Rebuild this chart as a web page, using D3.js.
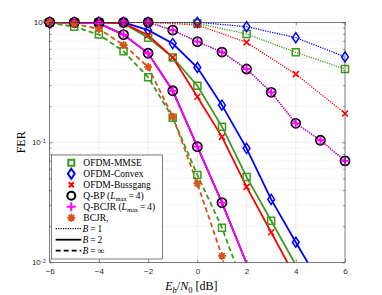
<!DOCTYPE html>
<html>
<head>
<meta charset="utf-8">
<script src="https://cdn.jsdelivr.net/npm/d3@7"></script>
<style>
body{margin:0;background:#fff;}
svg{display:block;}
text{font-family:"Liberation Serif","Times New Roman",serif;fill:#000;}
.tick text{font-family:"Liberation Sans",Arial,sans-serif;font-size:8px;fill:#262626;}
</style>
</head>
<body>
<div class="mainContainer"></div>
<script>
// Eb/N0 grids
var snr = [-6,-5,-4,-3,-2,-1,0,1,2,3,4,5,6];
var snrEven = [-6,-4,-2,0,2,4,6];

// B = 1 (dotted)
var mmseB1 = [1,1,1,0.98,0.80,0.562,0.408];
var convexB1 = [1,1,1,1,0.92,0.745,0.515];
var bussgangB1 = [1,1,1,0.95,0.68,0.37,0.174];
var qbpB1 = [1,1,1,1,1,0.86,0.69,0.565,0.408,0.261,0.144,0.104,0.070];
var qbcjrB1 = [1,1,1,1,1,0.86,0.69,0.565,0.408,0.261,0.144,0.104,0.070];

// B = 2 (solid)
var mmseB2 = [1,1,1,0.98,0.745,0.51,0.296,0.135,0.0515,0.0222,0.0095];
var convexB2 = [1,1,1,1,0.86,0.665,0.42,0.204,0.089,0.0334,0.0147,0.0066];
var bussgangB2 = [1,1,1,0.985,0.78,0.51,0.24,0.111,0.0425,0.0178,0.0074];
var qbpB2 = [1,1,0.98,0.79,0.552,0.269,0.092,0.0314,0.0098];
var qbcjrB2 = [1,1,0.98,0.79,0.552,0.269,0.092,0.0314,0.0098];

// B = inf (dashed)
var mmseBinf = [0.99,0.92,0.79,0.574,0.348,0.16,0.0535,0.0194,0.0055];
var bcjrBinf = [1,0.97,0.88,0.647,0.425,0.163,0.0454,0.0113,0.0015];

var xTicks = [-6,-4,-2,0,2,4,6];
var yTicks = [0.01,0.1,1];
var yExp = ['-2','-1','0'];

var legendNames = ['OFDM-MMSE','OFDM-Convex','OFDM-Bussgang','Q-BP','Q-BCJR','BCJR,'];
var legendB = ['1','2','\u221e'];

var colGreen = '#3c9a1e', colBlue = '#0000ff', colRed = '#ff0000',
	colBlack = '#000000', colMag = '#ff00ff', colOrange = '#d95319';

var dotted = '1.2,1.2', dashed = '5,3';

var series = [
	{x: snrEven, y: mmseB1, c: colGreen, m: 'square', d: dotted, w: 1.3},
	{x: snr, y: mmseB2, c: colGreen, m: 'square', d: null, w: 1.8},
	{x: snr, y: mmseBinf, c: colGreen, m: 'square', d: dashed, w: 1.8},
	{x: snrEven, y: convexB1, c: colBlue, m: 'diamond', d: dotted, w: 1.3},
	{x: snr, y: convexB2, c: colBlue, m: 'diamond', d: null, w: 1.8},
	{x: snrEven, y: bussgangB1, c: colRed, m: 'cross', d: dotted, w: 1.3},
	{x: snr, y: bussgangB2, c: colRed, m: 'cross', d: null, w: 1.8},
	{x: snr, y: qbpB1, c: colBlack, m: 'circle', d: dotted, w: 1.3},
	{x: snr, y: qbpB2, c: colBlack, m: 'circle', d: null, w: 1.8},
	{x: snr, y: qbcjrB1, c: colMag, m: 'plus', d: dotted, w: 1.3},
	{x: snr, y: qbcjrB2, c: colMag, m: 'plus', d: null, w: 1.8},
	{x: snr, y: bcjrBinf, c: colOrange, m: 'star', d: dashed, w: 1.8}
];

function markerPath(type, s) {
	var h = s / 2;
	if (type == 'square') return 'M' + (-h) + ',' + (-h) + 'h' + s + 'v' + s + 'h' + (-s) + 'Z';
	if (type == 'diamond') return 'M0,' + (-h * 1.25) + 'L' + (h * 0.85) + ',0L0,' + (h * 1.25) + 'L' + (-h * 0.85) + ',0Z';
	if (type == 'cross') return 'M' + (-h) + ',' + (-h) + 'L' + h + ',' + h + 'M' + h + ',' + (-h) + 'L' + (-h) + ',' + h;
	if (type == 'plus') return 'M' + (-h) + ',0L' + h + ',0M0,' + (-h) + 'L0,' + h;
	if (type == 'circle') return 'M' + h + ',0A' + h + ',' + h + ' 0 1,1 ' + (-h) + ',0A' + h + ',' + h + ' 0 1,1 ' + h + ',0Z';
	var k = h * 0.7071;
	return 'M' + (-h) + ',0L' + h + ',0M0,' + (-h) + 'L0,' + h +
		'M' + (-k) + ',' + (-k) + 'L' + k + ',' + k + 'M' + k + ',' + (-k) + 'L' + (-k) + ',' + k;
}
var markerSize = {square: 7, diamond: 8, cross: 6, plus: 9, circle: 9, star: 8};
var markerWidth = {square: 1.5, diamond: 1.5, cross: 1.5, plus: 1.8, circle: 1.8, star: 1.8};

var W = 382, H = 295;
var pLeft = 49.7, pRight = 345, pTop = 22.3, pBottom = 262.3;

var svg = d3.select('.mainContainer').append('svg').attr('width', W).attr('height', H);

var x = d3.scaleLinear().domain([-6, 6]).range([pLeft, pRight]);
var y = d3.scaleLog().domain([0.01, 1]).range([pBottom, pTop]);

svg.append('defs').append('clipPath').attr('id', 'plotClip')
	.append('rect').attr('x', pLeft).attr('y', pTop).attr('width', pRight - pLeft).attr('height', pBottom - pTop);

// grid
var minors = [];
[0.01, 0.1].forEach(function(b) { for (var i = 2; i <= 9; i++) minors.push(b * i); });

var grid = svg.append('g');
grid.selectAll('.gx').data(xTicks.slice(1, -1)).enter().append('line')
	.attr('x1', function(d) { return x(d); }).attr('x2', function(d) { return x(d); })
	.attr('y1', pTop).attr('y2', pBottom).style('stroke', '#e3e3e3').style('stroke-width', 0.6);
grid.selectAll('.gy').data([0.1]).enter().append('line')
	.attr('x1', pLeft).attr('x2', pRight)
	.attr('y1', function(d) { return y(d); }).attr('y2', function(d) { return y(d); })
	.style('stroke', '#e3e3e3').style('stroke-width', 0.6);
grid.selectAll('.gm').data(minors).enter().append('line')
	.attr('x1', pLeft).attr('x2', pRight)
	.attr('y1', function(d) { return y(d); }).attr('y2', function(d) { return y(d); })
	.style('stroke', '#d8d8d8').style('stroke-width', 0.6).style('stroke-dasharray', '1,1.5');

// curves
var line = d3.line().x(function(d) { return x(d[0]); }).y(function(d) { return y(d[1]); });
var plot = svg.append('g').attr('clip-path', 'url(#plotClip)');

series.forEach(function(s) {
	var pts = s.x.slice(0, s.y.length).map(function(v, i) { return [v, s.y[i]]; });
	plot.append('path').datum(pts).attr('d', line)
		.style('fill', 'none').style('stroke', s.c).style('stroke-width', s.w)
		.style('stroke-dasharray', s.d);
	svg.append('g').selectAll('path').data(pts.filter(function(p) { return p[1] >= 0.01; })).enter().append('path')
		.attr('transform', function(p) { return 'translate(' + x(p[0]) + ',' + y(p[1]) + ')'; })
		.attr('d', markerPath(s.m, markerSize[s.m]))
		.style('fill', 'none').style('stroke', s.c).style('stroke-width', markerWidth[s.m]);
});

// axes, ticks inside
var axColor = '#262626';
svg.append('g').attr('transform', 'translate(0,' + pBottom + ')')
	.call(d3.axisBottom(x).tickValues(xTicks).tickSize(-3).tickPadding(6).tickFormat(d3.format('d')));
svg.append('g').attr('transform', 'translate(0,' + pTop + ')')
	.call(d3.axisTop(x).tickValues(xTicks).tickSize(-3).tickFormat(''));
var yAxis = svg.append('g').attr('transform', 'translate(' + pLeft + ',0)')
	.call(d3.axisLeft(y).tickValues(yTicks).tickSize(-3).tickPadding(4).tickFormat(function() { return ''; }));
svg.append('g').attr('transform', 'translate(' + pRight + ',0)')
	.call(d3.axisRight(y).tickValues(yTicks).tickSize(-3).tickFormat(''));
svg.append('g').attr('transform', 'translate(' + pLeft + ',0)')
	.call(d3.axisLeft(y).tickValues(minors).tickSize(-1.8).tickFormat(''));
svg.append('g').attr('transform', 'translate(' + pRight + ',0)')
	.call(d3.axisRight(y).tickValues(minors).tickSize(-1.8).tickFormat(''));
svg.selectAll('.domain').remove();
svg.selectAll('.tick line').style('stroke', axColor).style('stroke-width', 0.5);

yAxis.selectAll('.tick text').each(function(d) {
	var t = d3.select(this).attr('x', -4).attr('dy', '0.3em');
	t.append('tspan').text('10');
	t.append('tspan').attr('dy', '-0.45em').style('font-size', '5.5px').text(yExp[yTicks.indexOf(d)]);
});

svg.append('rect').attr('x', pLeft).attr('y', pTop).attr('width', pRight - pLeft).attr('height', pBottom - pTop)
	.style('fill', 'none').style('stroke', axColor).style('stroke-width', 0.6);

// axis labels
svg.append('text').attr('transform', 'translate(25,' + ((pTop + pBottom) / 2) + ') rotate(-90)')
	.attr('text-anchor', 'middle').style('font-size', '12px').text('FER');

var xl = svg.append('text').attr('x', (pLeft + pRight) / 2 - 6).attr('y', 290)
	.attr('text-anchor', 'middle').style('font-size', '12px');
xl.append('tspan').style('font-style', 'italic').text('E');
xl.append('tspan').attr('dy', 2.5).style('font-size', '8.5px').style('font-style', 'italic').text('b');
xl.append('tspan').attr('dy', -2.5).text('/');
xl.append('tspan').style('font-style', 'italic').text('N');
xl.append('tspan').attr('dy', 2.5).style('font-size', '8.5px').text('0');
xl.append('tspan').attr('dy', -2.5).text(' [dB]');

// legend
var lg = svg.append('g');
lg.append('rect').attr('x', 51.3).attr('y', 155).attr('width', 111).attr('height', 104)
	.style('fill', '#fff').style('stroke', axColor).style('stroke-width', 0.6);

var legMarks = ['square', 'diamond', 'cross', 'circle', 'plus', 'star'];
var legCols = [colGreen, colBlue, colRed, colBlack, colMag, colOrange];
var legSize = {square: 6, diamond: 8, cross: 5, plus: 9, circle: 8, star: 8};
var rowY = function(i) { return 162.7 + i * 11; };

legendNames.forEach(function(n, i) {
	lg.append('path').attr('transform', 'translate(71.3,' + rowY(i) + ')')
		.attr('d', markerPath(legMarks[i], legSize[legMarks[i]]))
		.style('fill', 'none').style('stroke', legCols[i]).style('stroke-width', 2);
	var t = lg.append('text').attr('x', 83.3).attr('y', rowY(i) + 3.3).style('font-size', '9.5px');
	t.append('tspan').text(n);
	if (i == 3 || i == 4) {
		t.append('tspan').text(' (');
		t.append('tspan').style('font-style', 'italic').text('L');
		t.append('tspan').attr('dy', 1.8).style('font-size', '6.5px').text('max');
		t.append('tspan').attr('dy', -1.8).text('\u2009=\u20094)');
	}
});

var legDash = [dotted, null, dashed];
var legW = [1.3, 1.8, 1.8];
legendB.forEach(function(b, j) {
	var ry = rowY(6 + j);
	lg.append('line').attr('x1', 55.7).attr('x2', 81.3).attr('y1', ry).attr('y2', ry)
		.style('stroke', '#000').style('stroke-width', legW[j]).style('stroke-dasharray', legDash[j]);
	var t = lg.append('text').attr('x', 82.5).attr('y', ry + 3.3).style('font-size', '9.5px');
	t.append('tspan').style('font-style', 'italic').text('B');
	t.append('tspan').text('\u2009=\u2009' + b);
});
</script>
</body>
</html>
